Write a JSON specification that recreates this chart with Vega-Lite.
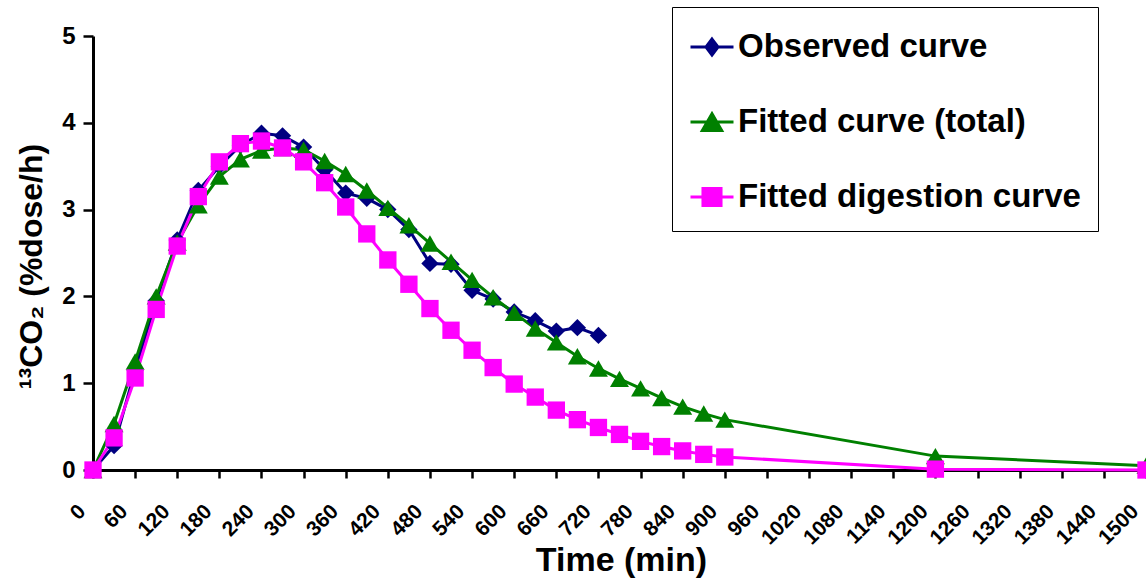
{
  "$schema": "https://vega.github.io/schema/vega-lite/v6.json",
  "autosize": {"type": "none"},
  "padding": {"left": 93, "top": 36, "right": 0, "bottom": 110},
  "width": 1053,
  "height": 434,
  "background": "white",
  "config": {
    "view": {"stroke": null},
    "font": "Liberation Sans",
    "axis": {"grid": false, "domainColor": "black", "domainWidth": 3, "tickColor": "black", "tickWidth": 2.5, "labelColor": "black", "titleColor": "black", "labelFont": "Liberation Sans", "titleFont": "Liberation Sans", "labelFontWeight": "bold", "titleFontWeight": "bold"}
  },
  "data": {"values": [
    {"t": 0, "v": 0.0, "s": "Observed curve"},
    {"t": 30, "v": 0.28, "s": "Observed curve"},
    {"t": 60, "v": 1.15, "s": "Observed curve"},
    {"t": 90, "v": 1.95, "s": "Observed curve"},
    {"t": 120, "v": 2.65, "s": "Observed curve"},
    {"t": 150, "v": 3.22, "s": "Observed curve"},
    {"t": 180, "v": 3.50, "s": "Observed curve"},
    {"t": 210, "v": 3.74, "s": "Observed curve"},
    {"t": 240, "v": 3.88, "s": "Observed curve"},
    {"t": 270, "v": 3.85, "s": "Observed curve"},
    {"t": 300, "v": 3.72, "s": "Observed curve"},
    {"t": 330, "v": 3.46, "s": "Observed curve"},
    {"t": 360, "v": 3.19, "s": "Observed curve"},
    {"t": 390, "v": 3.13, "s": "Observed curve"},
    {"t": 420, "v": 3.00, "s": "Observed curve"},
    {"t": 450, "v": 2.77, "s": "Observed curve"},
    {"t": 480, "v": 2.38, "s": "Observed curve"},
    {"t": 510, "v": 2.37, "s": "Observed curve"},
    {"t": 540, "v": 2.07, "s": "Observed curve"},
    {"t": 570, "v": 1.97, "s": "Observed curve"},
    {"t": 600, "v": 1.82, "s": "Observed curve"},
    {"t": 630, "v": 1.72, "s": "Observed curve"},
    {"t": 660, "v": 1.60, "s": "Observed curve"},
    {"t": 690, "v": 1.64, "s": "Observed curve"},
    {"t": 720, "v": 1.55, "s": "Observed curve"},
    {"t": 0, "v": 0.0, "s": "Fitted curve (total)"},
    {"t": 30, "v": 0.53, "s": "Fitted curve (total)"},
    {"t": 60, "v": 1.25, "s": "Fitted curve (total)"},
    {"t": 90, "v": 2.0, "s": "Fitted curve (total)"},
    {"t": 120, "v": 2.62, "s": "Fitted curve (total)"},
    {"t": 150, "v": 3.05, "s": "Fitted curve (total)"},
    {"t": 180, "v": 3.38, "s": "Fitted curve (total)"},
    {"t": 210, "v": 3.58, "s": "Fitted curve (total)"},
    {"t": 240, "v": 3.68, "s": "Fitted curve (total)"},
    {"t": 270, "v": 3.71, "s": "Fitted curve (total)"},
    {"t": 300, "v": 3.69, "s": "Fitted curve (total)"},
    {"t": 330, "v": 3.56, "s": "Fitted curve (total)"},
    {"t": 360, "v": 3.41, "s": "Fitted curve (total)"},
    {"t": 390, "v": 3.22, "s": "Fitted curve (total)"},
    {"t": 420, "v": 3.02, "s": "Fitted curve (total)"},
    {"t": 450, "v": 2.82, "s": "Fitted curve (total)"},
    {"t": 480, "v": 2.61, "s": "Fitted curve (total)"},
    {"t": 510, "v": 2.40, "s": "Fitted curve (total)"},
    {"t": 540, "v": 2.19, "s": "Fitted curve (total)"},
    {"t": 570, "v": 1.99, "s": "Fitted curve (total)"},
    {"t": 600, "v": 1.81, "s": "Fitted curve (total)"},
    {"t": 630, "v": 1.63, "s": "Fitted curve (total)"},
    {"t": 660, "v": 1.47, "s": "Fitted curve (total)"},
    {"t": 690, "v": 1.31, "s": "Fitted curve (total)"},
    {"t": 720, "v": 1.17, "s": "Fitted curve (total)"},
    {"t": 750, "v": 1.05, "s": "Fitted curve (total)"},
    {"t": 780, "v": 0.94, "s": "Fitted curve (total)"},
    {"t": 810, "v": 0.83, "s": "Fitted curve (total)"},
    {"t": 840, "v": 0.73, "s": "Fitted curve (total)"},
    {"t": 870, "v": 0.65, "s": "Fitted curve (total)"},
    {"t": 900, "v": 0.58, "s": "Fitted curve (total)"},
    {"t": 1200, "v": 0.16, "s": "Fitted curve (total)"},
    {"t": 1500, "v": 0.05, "s": "Fitted curve (total)"},
    {"t": 0, "v": 0.0, "s": "Fitted digestion curve"},
    {"t": 30, "v": 0.37, "s": "Fitted digestion curve"},
    {"t": 60, "v": 1.06, "s": "Fitted digestion curve"},
    {"t": 90, "v": 1.85, "s": "Fitted digestion curve"},
    {"t": 120, "v": 2.58, "s": "Fitted digestion curve"},
    {"t": 150, "v": 3.15, "s": "Fitted digestion curve"},
    {"t": 180, "v": 3.55, "s": "Fitted digestion curve"},
    {"t": 210, "v": 3.76, "s": "Fitted digestion curve"},
    {"t": 240, "v": 3.79, "s": "Fitted digestion curve"},
    {"t": 270, "v": 3.71, "s": "Fitted digestion curve"},
    {"t": 300, "v": 3.55, "s": "Fitted digestion curve"},
    {"t": 330, "v": 3.31, "s": "Fitted digestion curve"},
    {"t": 360, "v": 3.03, "s": "Fitted digestion curve"},
    {"t": 390, "v": 2.72, "s": "Fitted digestion curve"},
    {"t": 420, "v": 2.42, "s": "Fitted digestion curve"},
    {"t": 450, "v": 2.14, "s": "Fitted digestion curve"},
    {"t": 480, "v": 1.86, "s": "Fitted digestion curve"},
    {"t": 510, "v": 1.61, "s": "Fitted digestion curve"},
    {"t": 540, "v": 1.38, "s": "Fitted digestion curve"},
    {"t": 570, "v": 1.18, "s": "Fitted digestion curve"},
    {"t": 600, "v": 0.99, "s": "Fitted digestion curve"},
    {"t": 630, "v": 0.84, "s": "Fitted digestion curve"},
    {"t": 660, "v": 0.69, "s": "Fitted digestion curve"},
    {"t": 690, "v": 0.58, "s": "Fitted digestion curve"},
    {"t": 720, "v": 0.49, "s": "Fitted digestion curve"},
    {"t": 750, "v": 0.41, "s": "Fitted digestion curve"},
    {"t": 780, "v": 0.33, "s": "Fitted digestion curve"},
    {"t": 810, "v": 0.27, "s": "Fitted digestion curve"},
    {"t": 840, "v": 0.22, "s": "Fitted digestion curve"},
    {"t": 870, "v": 0.18, "s": "Fitted digestion curve"},
    {"t": 900, "v": 0.15, "s": "Fitted digestion curve"},
    {"t": 1200, "v": 0.01, "s": "Fitted digestion curve"},
    {"t": 1500, "v": 0.0, "s": "Fitted digestion curve"}
  ]},
  "encoding": {
    "x": {"field": "t", "type": "quantitative",
      "scale": {"domain": [0, 1500], "nice": false, "zero": false},
      "axis": {"title": "Time (min)", "format": "d", "values": [0,60,120,180,240,300,360,420,480,540,600,660,720,780,840,900,960,1020,1080,1140,1200,1260,1320,1380,1440,1500],
        "labelAngle": -45, "labelAlign": "right", "labelBaseline": "middle", "labelFontSize": 21, "labelPadding": 30, "labelOffset": -11, "tickSize": 8, "labelOverlap": false, "labelFlush": false,
        "titleFontSize": 34, "titleX": 528, "titleY": 90, "titleAlign": "center", "titleBaseline": "middle"}},
    "y": {"field": "v", "type": "quantitative",
      "scale": {"domain": [0, 5], "nice": false},
      "axis": {"title": "¹³CO₂ (%dose/h)", "values": [0,1,2,3,4,5], "labelFontSize": 24, "tickSize": 10, "labelPadding": 8,
        "titleFontSize": 32, "titleX": -62, "titleY": 230, "titleAngle": -90, "titleAlign": "center", "titleBaseline": "middle"}}
  },
  "layer": [
    {"mark": {"type": "line", "strokeWidth": 3},
     "encoding": {
      "color": {"field": "s", "type": "nominal",
      "scale": {"domain": ["Observed curve", "Fitted curve (total)", "Fitted digestion curve"], "range": ["#000080", "#008000", "#FF00FF"]},
      "legend": {"title": null, "orient": "none", "legendX": 579, "legendY": -29, "strokeColor": "black", "fillColor": "white", "padding": 17,
        "symbolSize": 1849, "symbolStrokeWidth": 3, "labelFontSize": 33, "labelFontWeight": "bold", "labelFont": "Liberation Sans", "labelColor": "black", "labelOffset": 3, "rowPadding": 35, "labelLimit": 600,
        "encode": {"symbols": {"update": {
          "fill": {"scale": "color", "field": "value"},
          "stroke": {"scale": "color", "field": "value"},
          "size": {"value": 1849},
          "opacity": {"value": 1},
          "shape": {"signal": "datum.value === 'Observed curve' ? 'M-1,0L1,0M0,-0.37L0.28,0L0,0.37L-0.28,0Z' : datum.value === 'Fitted curve (total)' ? 'M-1,0L1,0M0,-0.38L0.45,0.4L-0.45,0.4Z' : 'M-1,0L1,0M-0.42,-0.4L0.42,-0.4L0.42,0.4L-0.42,0.4Z'"}
        }}}}}
     }},
    {"transform": [{"filter": "datum.s === 'Observed curve'"}],
     "mark": {"type": "point", "filled": true, "opacity": 1, "shape": "diamond", "size": 300, "color": "#000080"}},
    {"transform": [{"filter": "datum.s === 'Fitted curve (total)'"}],
     "mark": {"type": "point", "filled": true, "opacity": 1, "shape": "triangle-up", "size": 360, "color": "#008000"}},
    {"transform": [{"filter": "datum.s === 'Fitted digestion curve'"}],
     "mark": {"type": "point", "filled": true, "opacity": 1, "shape": "square", "size": 300, "color": "#FF00FF"}}
  ]
}
